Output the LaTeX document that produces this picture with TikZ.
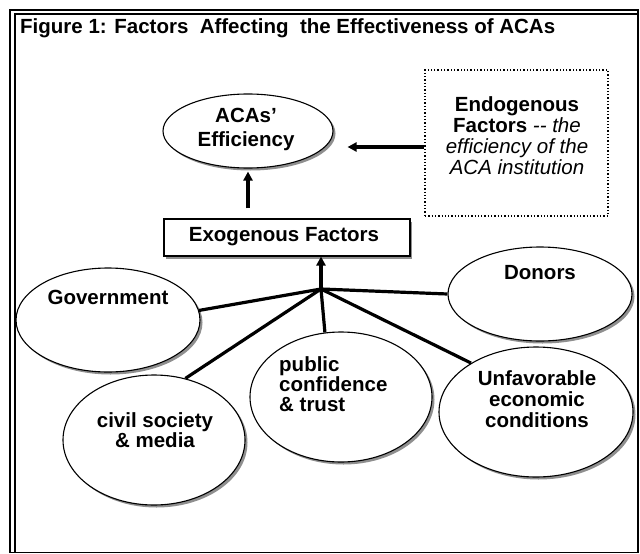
\documentclass[tikz,border=0pt]{standalone}
\usepackage{fontspec}
\setmainfont{Liberation Sans}
\usetikzlibrary{shapes.geometric,arrows.meta,shadows}
\begin{document}
\begin{tikzpicture}[x=1pt,y=-1pt,
  txt/.style={font=\fontsize{20.5}{21}\selectfont\bfseries, inner sep=0pt, align=center},
  oval/.style={ellipse, draw, line width=1.1pt, fill=white, inner sep=0pt,
    drop shadow={shadow xshift=2.5pt, shadow yshift=-2.5pt, fill=black!55, opacity=0.8}},
  wire/.style={line width=3.2pt},
  arr/.style={line width=3.2pt, -{Triangle[length=9pt,width=9pt]}}]
\useasboundingbox (0,0) rectangle (640,554);
\fill[white] (0,0) rectangle (640,554);

% double frame
\draw[line width=1.6pt] (10,552.5) -- (10,10) -- (638,10) -- (638,552.5) -- cycle;
\draw[line width=1.2pt] (15,552.5) -- (15,14) -- (638,14);

% title
\node[txt, anchor=west] (title) at (20,28) {Figure 1: Factors\ \ Affecting\ \ the Effectiveness of ACAs};

% efficiency ellipse
\node[oval, minimum width=170pt, minimum height=74pt] (aca) at (248,131) {};
\node[txt, font=\fontsize{20.5}{24}\selectfont\bfseries] (acat) at (246,129) {ACAs’\\Efficiency};

% endogenous factors (dotted box)
\node[draw, dotted, line width=1.3pt, minimum width=183pt, minimum height=146pt, inner sep=0pt]
  (endo) at (516.5,143) {};
\node[txt, font=\fontsize{20.5}{21}\selectfont] (endot) at (517,136)
  {{\bfseries Endogenous}\\ {\bfseries Factors} {\itshape -{}- the}\\ {\itshape efficiency of the}\\ {\itshape ACA institution}};

% exogenous factors box
\node[draw, line width=1.1pt, fill=white, minimum width=246pt, minimum height=37pt, inner sep=0pt,
  drop shadow={shadow xshift=2pt, shadow yshift=-2.5pt, fill=black!55, opacity=0.8}]
  (exo) at (287,237.5) {};
\node[txt] (exot) at (284,237) {Exogenous Factors};

% factor ellipses
\node[oval, minimum width=184pt, minimum height=104pt] (gov) at (108,320) {};
\node[txt] (govt) at (108,297) {Government};

\node[oval, minimum width=184pt, minimum height=94pt] (don) at (540,294) {};
\node[txt] (dont) at (540,273) {Donors};

\node[oval, minimum width=182pt, minimum height=130pt] (civ) at (154,440) {};
\node[txt, font=\fontsize{20.5}{20}\selectfont\bfseries] (civt) at (155,430) {civil society\\\& media};

\node[oval, minimum width=182pt, minimum height=130pt] (pub) at (341,397) {};
\node[txt, font=\fontsize{20.5}{20}\selectfont\bfseries, align=left, anchor=west] (pubt) at (279,384)
  {public\\confidence\\\& trust};

\node[oval, minimum width=194pt, minimum height=130pt] (unf) at (536,412) {};
\node[txt] (unft) at (537,399) {Unfavorable\\economic\\conditions};

% connectors
\coordinate (hub) at (321,289);
\draw[wire] (gov.6) -- (hub);
\draw[wire] (don.west) -- (hub);
\draw[wire] (civ.63) -- (hub);
\draw[wire] (pub.104) -- (hub);
\draw[wire] (unf.143) -- (hub);
\draw[arr] (hub) -- (hub |- exo.south);
\draw[arr, shorten <=10pt, shorten >=3pt] (aca.south |- exo.north) -- (aca.south);
\draw[arr, shorten >=14pt] ([yshift=-4pt]endo.west) -- ([yshift=-4pt]endo.west -| aca.east);
\end{tikzpicture}
\end{document}
